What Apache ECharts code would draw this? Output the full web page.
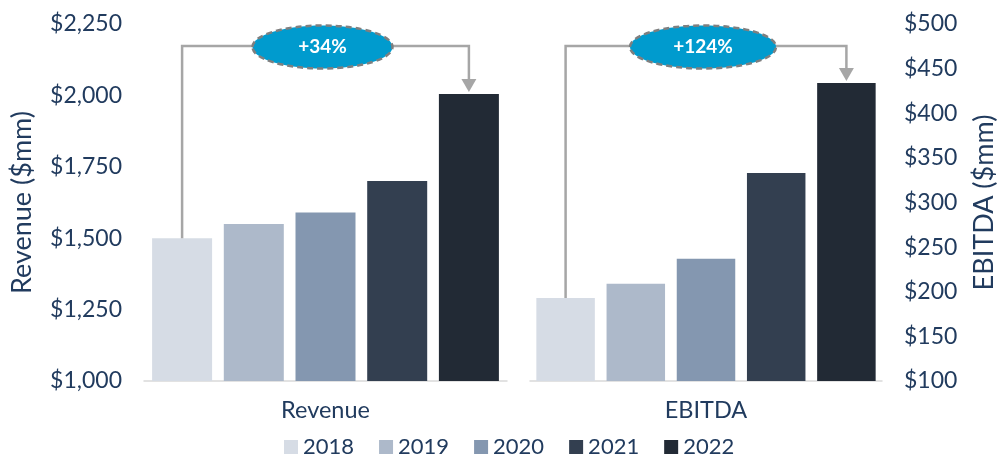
<!DOCTYPE html>
<html>
<head>
<meta charset="utf-8">
<script src="https://cdn.jsdelivr.net/npm/echarts@6/dist/echarts.min.js"></script>
<style>
  html, body { margin: 0; padding: 0; background: #fff; }
  #chart { width: 999px; height: 456px; }
</style>
</head>
<body>
<div id="chart"></div>
<script>
// data
const years = ['2018', '2019', '2020', '2021', '2022'];
const revenue = [1500, 1550, 1590, 1700, 2005];
const ebitda = [193, 209, 237, 333, 434];
const groups = ['Revenue', 'EBITDA'];
const growth = ['+34%', '+124%'];
const revenueTicks = [1000, 1250, 1500, 1750, 2000, 2250];
const ebitdaTicks = [100, 150, 200, 250, 300, 350, 400, 450, 500];

const colors = ['#D6DCE5', '#ADB9CA', '#8497B0', '#333F50', '#222A35'];
const textColor = '#213B5E';
const font = 'Lato';

const barW = [60, 58.5];
const gapPct = [0.195, 0.2];

const chart = echarts.init(document.getElementById('chart'));

const money = (v) => '$' + v.toLocaleString('en-US');

// bracket + arrow + ellipse, placed from the first and last bar
function bracket(gi) {
  return function (params, api) {
    const start = api.value(1);
    const end = api.value(2);
    const c = api.coord([0, start]);
    const cEnd = api.coord([0, end]);
    const step = barW[gi] * (1 + gapPct[gi]);
    const x0 = c[0] - 2 * step;
    const x1 = c[0] + 2 * step;
    const yb = params.coordSys.y + 22;
    const tip = cEnd[1] - 2;
    const mid = (x0 + x1) / 2;
    const rx = gi === 0 ? 70 : 73;
    return {
      type: 'group',
      children: [
        {
          type: 'polyline',
          shape: { points: [[x0, c[1]], [x0, yb], [x1, yb], [x1, tip - 12]] },
          style: { stroke: '#A6A6A6', lineWidth: 2.5, fill: null }
        },
        {
          type: 'polygon',
          shape: { points: [[x1 - 7.5, tip - 13], [x1 + 7.5, tip - 13], [x1, tip]] },
          style: { fill: '#A6A6A6' }
        },
        {
          type: 'ellipse',
          shape: { cx: mid - 3, cy: yb + 1, rx: rx, ry: 21.5 },
          style: { fill: '#009BCE', stroke: '#7F7F7F', lineWidth: 2.5, lineDash: [6, 4] }
        },
        {
          type: 'text',
          style: {
            text: api.value(3),
            x: mid - 3, y: yb + 1,
            fill: '#fff',
            font: 'bold 19px ' + font,
            align: 'center',
            verticalAlign: 'middle'
          }
        }
      ]
    };
  };
}

const series = [];
[revenue, ebitda].forEach((vals, gi) => {
  years.forEach((y, i) => {
    series.push({
      name: y,
      type: 'bar',
      xAxisIndex: gi,
      yAxisIndex: gi,
      barWidth: barW[gi],
      barGap: (gapPct[gi] * 100) + '%',
      itemStyle: { color: colors[i] },
      data: [vals[i]]
    });
  });
  series.push({
    type: 'custom',
    xAxisIndex: gi,
    yAxisIndex: gi,
    z: 5,
    silent: true,
    renderItem: bracket(gi),
    data: [[0, vals[0], vals[vals.length - 1], growth[gi]]]
  });
});

const xAxisBase = {
  type: 'category',
  axisTick: { show: false },
  axisLine: { lineStyle: { color: '#D9D9D9', width: 1.5 } },
  axisLabel: { color: textColor, fontSize: 23.5, fontFamily: font, margin: 17 }
};

const yAxisBase = {
  type: 'value',
  splitLine: { show: false },
  axisLine: { show: false },
  axisTick: { show: false },
  nameLocation: 'middle',
  nameRotate: 90,
  nameTextStyle: { color: textColor, fontSize: 27, fontFamily: font },
  axisLabel: { color: textColor, fontSize: 23, fontFamily: font, margin: 22, formatter: money }
};

chart.setOption({
  backgroundColor: '#fff',
  animation: false,
  textStyle: { fontFamily: font },
  grid: [
    { left: 144, top: 24, width: 363, height: 357 },
    { left: 530, top: 24, width: 354, height: 357 }
  ],
  legend: {
    data: years,
    left: 279,
    top: 431,
    itemWidth: 14,
    itemHeight: 14,
    itemGap: 25,
    icon: 'rect',
    textStyle: { color: textColor, fontSize: 22, fontFamily: font }
  },
  xAxis: [
    Object.assign({}, xAxisBase, { gridIndex: 0, data: [groups[0]] }),
    Object.assign({}, xAxisBase, { gridIndex: 1, data: [groups[1]] })
  ],
  yAxis: [
    Object.assign({}, yAxisBase, {
      gridIndex: 0,
      name: 'Revenue ($mm)',
      nameGap: 108,
      min: revenueTicks[0],
      max: revenueTicks[revenueTicks.length - 1],
      interval: revenueTicks[1] - revenueTicks[0]
    }),
    Object.assign({}, yAxisBase, {
      gridIndex: 1,
      position: 'right',
      name: 'EBITDA ($mm)',
      nameGap: 89,
      min: ebitdaTicks[0],
      max: ebitdaTicks[ebitdaTicks.length - 1],
      interval: ebitdaTicks[1] - ebitdaTicks[0]
    })
  ],
  series: series
});
</script>
</body>
</html>
